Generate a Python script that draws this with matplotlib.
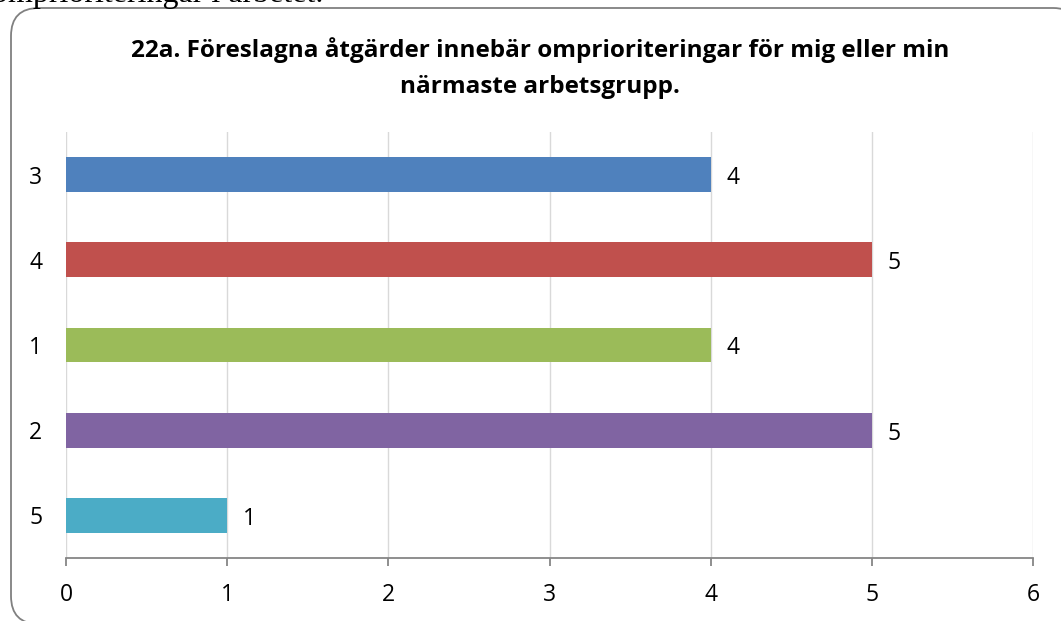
import matplotlib.pyplot as plt
from matplotlib.patches import FancyBboxPatch

# data
kategorier = ['3', '4', '1', '2', '5']
antal = [4, 5, 4, 5, 1]
farger = ['#4F81BD', '#C0504D', '#9BBB59', '#8064A2', '#4BACC6']
xtick_varden = [0, 1, 2, 3, 4, 5, 6]

titel = '22a. Föreslagna åtgärder innebär omprioriteringar för mig eller min\nnärmaste arbetsgrupp.'

W, H = 1061, 621
fig = plt.figure(figsize=(W / 100, H / 100), dpi=100)
fig.patch.set_facecolor('white')

# bakgrund med rundad ram (pixelkoordinater)
bg = fig.add_axes([0, 0, 1, 1])
bg.set_xlim(0, W)
bg.set_ylim(H, 0)
bg.axis('off')
ram = FancyBboxPatch((11, 8), 1070, 616, boxstyle='round,pad=0,rounding_size=28',
                     facecolor='white', edgecolor='#808080', linewidth=1.3)
bg.add_patch(ram)

# avklippt text ovanför diagrammet
fig.text(-0.008, 1 - 2 / H, 'omprioriteringar i arbetet.', family='Liberation Serif',
         fontsize=23, ha='left', va='baseline', color='black')

fig.text(540 / W, 1 - 68 / H, titel, family='Open Sans', fontsize=17.5, fontweight='bold',
         ha='center', va='center', linespacing=1.7)

ax = fig.add_axes([66 / W, 63 / H, (1033 - 66) / W, (558 - 132) / H])
ax.set_facecolor('none')
pos = list(range(len(kategorier)))
ax.barh(pos, antal, height=0.41, color=farger, zorder=2)
for p, v in zip(pos, antal):
    ax.text(v + 0.1, p + 0.04, str(v), ha='left', va='center', fontsize=16.5, family='Open Sans')

ax.set_xlim(0, 6)
ax.set_ylim(len(kategorier) - 0.5, -0.5)
ax.set_yticks(pos)
ax.set_yticklabels(kategorier, family='Open Sans', fontsize=16.5)
ax.set_xticks(xtick_varden)
ax.set_xticklabels([str(x) for x in xtick_varden], family='Open Sans', fontsize=16.5)
ax.tick_params(axis='y', length=0, pad=17)
ax.tick_params(axis='x', length=6, width=1.3, color='#868686', pad=12, direction='out')
ax.grid(axis='x', color='#d9d9d9', linewidth=1, zorder=0)
for s in ['top', 'right', 'left']:
    ax.spines[s].set_visible(False)
ax.spines['bottom'].set_color('#868686')
ax.spines['bottom'].set_linewidth(1.3)

fig.savefig('out.png', dpi=100)
